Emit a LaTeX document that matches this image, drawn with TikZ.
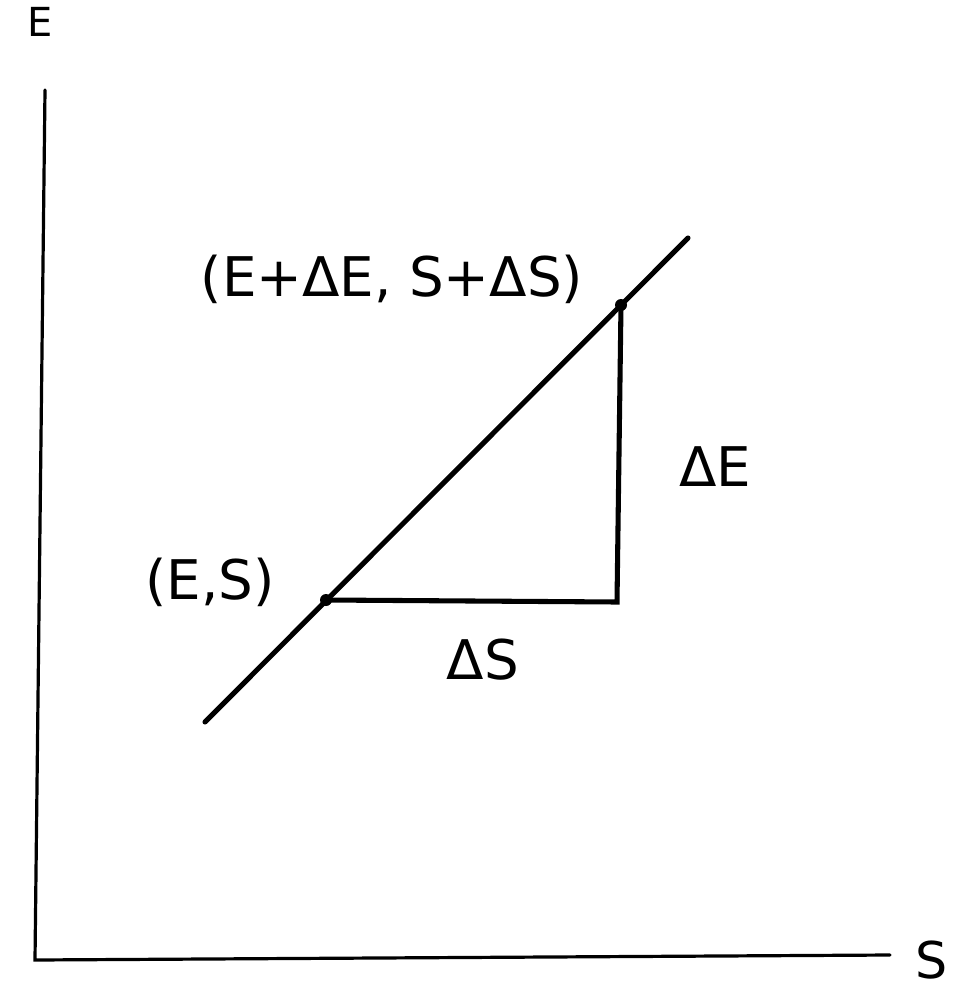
\documentclass[tikz,border=0pt]{standalone}
\usepackage{fontspec}
\setmainfont{DejaVu Sans}
\begin{document}
\begin{tikzpicture}[x=0.75pt,y=-0.75pt,
  axis/.style={line width=2.4pt,line cap=round},
  thick line/.style={line width=3.8pt,line cap=round},
  lbl/.style={inner sep=0pt,font=\fontsize{41}{45}\selectfont},
  pt/.style={circle,fill=black,inner sep=0pt,minimum size=9pt}]
\useasboundingbox (0,0) rectangle (953,992);
% axes
\coordinate (ytop) at (45,90);
\coordinate (origin) at (35,960);
\coordinate (xend) at (890,955);
\draw[axis] (ytop) -- (origin) -- (xend);
\node[lbl,font=\fontsize{30}{34}\selectfont] (Elab) at (40,22) {E};
\node[lbl,font=\fontsize{38}{42}\selectfont] (Slab) at (932,960) {S};
% line
\coordinate (lstart) at (205,722);
\coordinate (lend) at (688,238);
\draw[thick line] (lstart) -- (lend);
% points
\node[pt] (p1) at (326,600) {};
\node[pt] (p2) at (621,305) {};
\coordinate (corner) at (617,602);
\draw[thick line] (p1.center) -- (corner) -- (p2.center);
% labels
\node[lbl] (l1) at (210,582) {(E,S)};
\node[lbl] (l2) at (392,279) {(E+ΔE, S+ΔS)};
\node[lbl] (l3) at (715,467) {ΔE};
\node[lbl] (l4) at (483,660) {ΔS};
\end{tikzpicture}
\end{document}
